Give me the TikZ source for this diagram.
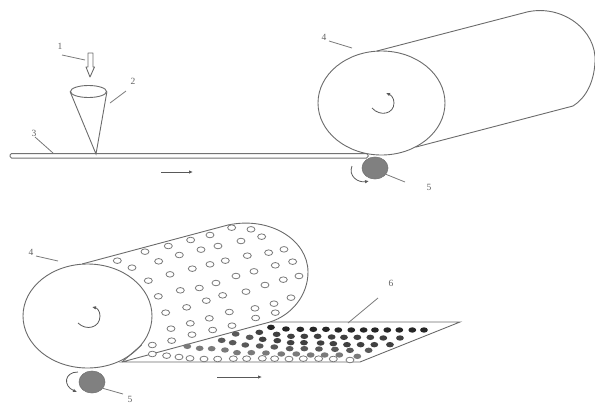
\documentclass[tikz,border=0pt]{standalone}
\usepackage{fontspec}
\setmainfont{Liberation Serif}
\usetikzlibrary{arrows.meta,shapes.geometric}
\tikzset{
  ln/.style={draw=black!58,line width=0.9pt},
  leader/.style={draw=black!52,line width=0.8pt},
  num/.style={font=\fontsize{9.5}{11}\selectfont,text=black!62,inner sep=0pt},
  flow/.style={draw=black!65,line width=0.8pt,-{Latex[length=4pt,width=3.5pt]}},
  roller/.style={ellipse,draw=black!55,fill=black!50,line width=0.6pt,minimum width=26pt,minimum height=22pt,inner sep=0pt},
}
\newcommand{\hole}[1]{\draw[draw=black!52,fill=white,line width=0.8pt] #1 ellipse[x radius=4pt,y radius=2.8pt];}
\newcommand{\dotk}[2]{\fill[black!#1] #2 ellipse[x radius=3.9pt,y radius=2.7pt];}
\begin{document}
\begin{tikzpicture}[x=1pt,y=-1pt]
\useasboundingbox (0,0) rectangle (595,405);
\clip (0,0) rectangle (595,405);
% ---------- top part
\draw[draw=black!55,line width=1pt,fill=white,rounded corners=1.5pt] (10,153.5) rectangle (368,158);
\node[num] (n1) at (60,46) {1};
\coordinate (l1a) at (62,55); \coordinate (l1b) at (85,60);
\draw[leader] (l1a) -- (l1b);
\node[num] (n2) at (133,81) {2};
\coordinate (l2a) at (126,91); \coordinate (l2b) at (110,103);
\draw[leader] (l2a) -- (l2b);
\node[num] (n3) at (34,133) {3};
\coordinate (l3a) at (35,137); \coordinate (l3b) at (53,153);
\draw[leader] (l3a) -- (l3b);
% hollow arrow
\draw[ln,fill=white,line join=round] (88,53) -- (93,53) -- (93,67) -- (94.5,67) -- (90,77) -- (86,67) -- (88,67) -- cycle;
% cone
\node[ellipse,draw=black!58,line width=0.9pt,minimum width=36pt,minimum height=12pt,inner sep=0pt] (cone) at (88.5,91.5) {};
\coordinate (apex) at (96,154);
\draw[ln] (cone.west) -- (apex) -- (cone.east);
% top roll
\node[ellipse,ln,minimum width=127pt,minimum height=104pt,inner sep=0pt] (rollA) at (381.5,103) {};
\coordinate (a1) at (377,51); \coordinate (a2) at (527,12);
\coordinate (a3) at (573,106); \coordinate (a4) at (416,147);
\draw[ln] (a1) -- (a2) .. controls (562,4) and (597,30) .. (595,62) .. controls (594,82) and (586,98) .. (a3) -- (a4);
\draw[flow] (372,108) .. controls (380,117) and (394,114) .. (394,103) .. controls (394,98) and (391,95) .. (386,93);
\node[roller] (rollerA) at (375,168) {};
\draw[flow] (352,166) .. controls (348,176) and (358,183) .. (369,181);
\coordinate (l5a) at (405,182);
\draw[leader] (rollerA.-30) -- (l5a);
\node[num] (n5) at (429,187) {5};
\node[num] (n4) at (324,37) {4};
\coordinate (l4a) at (329,41); \coordinate (l4b) at (352,48);
\draw[leader] (l4a) -- (l4b);
\coordinate (fa) at (161,172); \coordinate (fb) at (193,172);
\draw[flow] (fa) -- (fb);
% ---------- bottom part
\coordinate (s1) at (122,362); \coordinate (s2) at (360,362);
\coordinate (s3) at (460,322); \coordinate (s4) at (270,322);
\coordinate (b1) at (82,264); \coordinate (b2) at (228,225);
\draw[ln] (b1) -- (b2) .. controls (270,216) and (308,240) .. (308,272) .. controls (308,295) and (292,315) .. (s4);
\draw[ln,fill=white] (s1) -- (s2) -- (s3) -- (s4) -- cycle;
\node[ellipse,ln,fill=white,minimum width=129pt,minimum height=104pt,inner sep=0pt] (rollB) at (87.5,316) {};
\draw[ln] (rollB.-28) -- (s1);
\begin{scope}[shift={(0,215)},x=0.3333pt,y=-0.3333pt]
\foreach \p in {(695,38),(753,43),(785,65),(723,78),(630,60),(572,75),(505,93),(435,110),(352,137),(396,158),(476,139),(538,120),(603,104),(654,93),(742,122),(806,113),(852,103),(878,140),(826,151),(676,137),(630,148),(577,161),(510,178),(445,197),(708,183),(762,169),(897,183),(850,194),(795,210),(738,230),(648,204),(598,219),(541,226),(475,244),(668,241),(619,257),(560,277),(497,293),(873,248),(822,266),(765,280),(688,291),(826,293),(767,309),(628,310),(571,325),(513,341),(696,332),(638,345),(576,359),(515,377),(457,390)}{\hole{\p}}
\end{scope}
\begin{scope}[shift={(120,270)},x=0.3333pt,y=-0.3333pt]
\foreach \p in {(453,172),(498,177),(541,178),(580,178),(618,178),(655,180),(694,180),(731,180),(765,180),(802,180),(838,180),(877,180),(912,180)}{\dotk{85}{\p}}
\foreach \p in {(418,187),(470,193),(513,199),(553,199),(593,199),(635,201),(672,202),(712,202),(751,202),(790,204),(840,204),(428,208),(472,212),(512,218),(552,218),(602,219),(640,221),(681,224),(722,224),(763,224),(810,224)}{\dotk{75}{\p}}
\foreach \p in {(347,192),(389,202),(305,211),(338,218),(376,225),(419,228),(463,231),(509,236),(553,236),(597,237),(645,238),(690,241),(746,241)}{\dotk{65}{\p}}
\foreach \p in {(202,229),(239,235),(275,236),(315,240),(351,248),(394,248),(438,249),(484,252),(529,252),(572,255),(614,255),(658,255),(712,259)}{\dotk{52}{\p}}
\foreach \p in {(97,252),(140,257),(177,261),(210,265),(252,267),(293,267),(340,266),(380,266),(427,265),(464,266),(507,267),(550,266),(596,266),(640,267),(690,270)}{\hole{\p}}
\end{scope}
\draw[flow] (78,323) .. controls (86,331) and (100,328) .. (100,316) .. controls (100,311) and (97,308) .. (92,307);
\node[roller] (rollerB) at (92,382) {};
\draw[flow] (78,372) .. controls (64,372) and (63,386) .. (77,392);
\coordinate (l5b) at (123,394);
\draw[leader] (rollerB.-30) -- (l5b);
\node[num] (n5b) at (130,399.5) {5};
\node[num] (n4b) at (31,252) {4};
\coordinate (l4c) at (36,256); \coordinate (l4d) at (58,261);
\draw[leader] (l4c) -- (l4d);
\node[num] (n6) at (391,283) {6};
\coordinate (l6a) at (378,298); \coordinate (l6b) at (348,323);
\draw[leader] (l6a) -- (l6b);
\coordinate (fc) at (217,377); \coordinate (fd) at (262,377);
\draw[flow] (fc) -- (fd);
\end{tikzpicture}
\end{document}
